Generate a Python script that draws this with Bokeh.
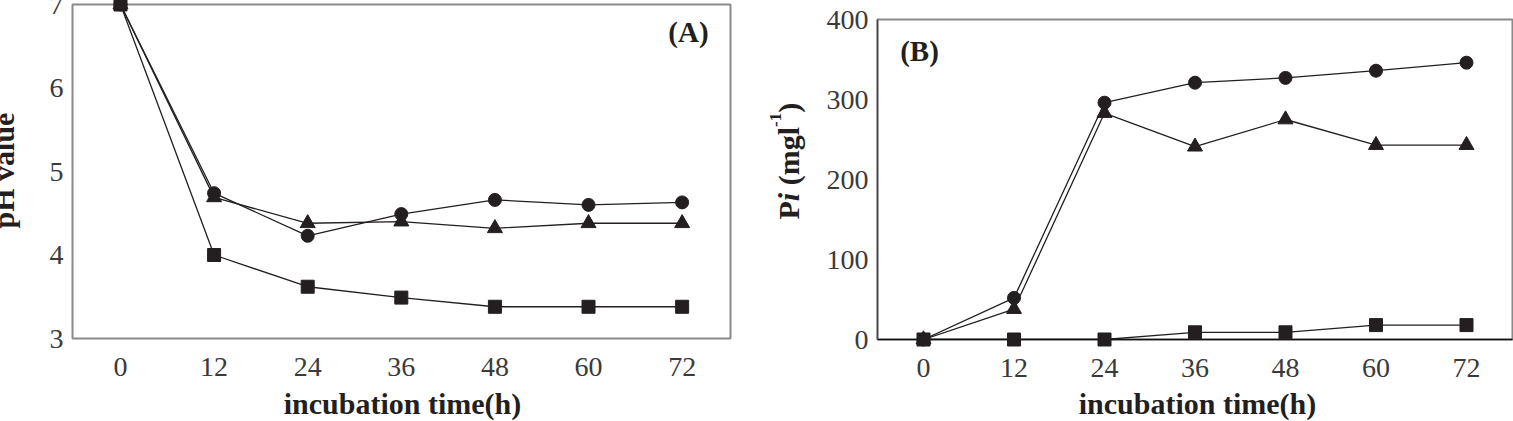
import math
from bokeh.plotting import figure
from bokeh.layouts import row
from bokeh.models import Label, FixedTicker, Range1d
from bokeh.core.properties import value
from bokeh.embed import file_html
from bokeh.resources import INLINE

# ---------------- data ----------------
hours = [0, 12, 24, 36, 48, 60, 72]
ph_circle = [7.0, 4.74, 4.23, 4.49, 4.66, 4.60, 4.63]
ph_triangle = [7.0, 4.69, 4.38, 4.40, 4.32, 4.38, 4.38]
ph_square = [7.0, 4.00, 3.62, 3.49, 3.38, 3.38, 3.38]
pi_circle = [0, 52, 296, 321, 327, 336, 346]
pi_triangle = [0, 38, 283, 241, 275, 243, 243]
pi_square = [0, 0, 0, 9, 9, 18, 18]
ph_ticks = [3, 4, 5, 6, 7]
pi_ticks = [0, 100, 200, 300, 400]
x_ticks = [0, 12, 24, 36, 48, 60, 72]
x_title = "incubation time(h)"
ya_title = "pH value"

INK = "#231f20"
SERIF = "Liberation Serif"


def make_fig(xr, yr, fw, fh, left, right, top, bottom, yticks):
    p = figure(frame_width=fw, frame_height=fh,
               min_border_left=left, min_border_right=right,
               min_border_top=top, min_border_bottom=bottom,
               x_range=Range1d(*xr), y_range=Range1d(*yr),
               output_backend="svg", toolbar_location=None,
               background_fill_color="white", border_fill_color="white")
    p.grid.visible = False
    p.outline_line_color = "#8a8a8a"
    p.outline_line_width = 2
    p.xaxis.ticker = FixedTicker(ticks=x_ticks)
    p.yaxis.ticker = FixedTicker(ticks=yticks)
    for ax in (p.xaxis, p.yaxis):
        ax.major_tick_out = 0
        ax.major_tick_in = 0
        ax.minor_tick_out = 0
        ax.minor_tick_in = 0
        ax.major_label_text_font = SERIF
        ax.major_label_text_font_size = "28px"
        ax.major_label_text_color = "#3a3a3a"
    p.xaxis.major_label_standoff = 19
    p.yaxis.major_label_standoff = 9
    return p


def add_series(p, ys, marker, size):
    p.line(hours, ys, line_color=INK, line_width=1.3)
    r = p.scatter(hours, ys, marker=marker, size=size, fill_color=INK, line_color=INK)
    r.level = "overlay"


def to_data(info, px, py):
    x0, x1, y0, y1, fl, ft, fw, fh = info
    return x0 + (px - fl) * (x1 - x0) / fw, y1 - (py - ft) * (y1 - y0) / fh


def add_text(p, info, px, py, text, size="30px", style="bold", angle=0.0,
             align="center"):
    xd, yd = to_data(info, px, py)
    r = p.text(x=[xd], y=[yd], text=[text], angle=angle,
               text_font=value(SERIF), text_font_size=value(size),
               text_font_style=style, text_color=INK,
               text_align=align, text_baseline="alphabetic")
    r.level = "overlay"


def add_tag(p, info, px, py, text):
    xd, yd = to_data(info, px, py)
    p.add_layout(Label(x=xd, y=yd, text=text, text_font=SERIF,
                       text_font_size="29px", text_font_style="bold",
                       text_color=INK, text_align="center",
                       text_baseline="alphabetic"))


# ---------------- panel A ----------------
xa = (-6.15, 78.2)
ya = (3, 7)
pa = make_fig(xa, ya, 658, 334, 72, 30, 19, 83, ph_ticks)
pa.margin = (-15, 0, 0, 0)
pa.xaxis.axis_line_color = None
pa.yaxis.axis_line_color = None
add_series(pa, ph_circle, "circle", 13)
add_series(pa, ph_triangle, "triangle", 15)
add_series(pa, ph_square, "square", 13)
# page-pixel frame: left 72, top 4
info_a = (xa[0], xa[1], ya[0], ya[1], 72, 4, 658, 334)
add_text(pa, info_a, 402, 403, x_title)
add_text(pa, info_a, 3, 170, ya_title, angle=math.pi / 2)
add_tag(pa, info_a, 688, 31, "(A)")

# ---------------- panel B ----------------
xb = (-6.1, 78.1)
yb = (0, 400)
pb = make_fig(xb, yb, 635, 320, 117, 1, 19, 82, pi_ticks)
pb.yaxis.axis_line_color = "#444444"
pb.yaxis.axis_line_width = 1.5
pb.xaxis.axis_line_color = "#111111"
pb.xaxis.axis_line_width = 1.5
add_series(pb, pi_circle, "circle", 13)
add_series(pb, pi_triangle, "triangle", 15)
add_series(pb, pi_square, "square", 13)
# page-pixel frame: left 877, top 19
info_b = (xb[0], xb[1], yb[0], yb[1], 877, 19, 635, 320)
add_text(pb, info_b, 1197, 403, x_title)
add_tag(pb, info_b, 919, 50, "(B)")
# rotated y title "Pi (mgl-1)" built from pieces (advance widths in em)
fs = 30
bx = 788
pos = 219
pieces = [("P", "bold", fs, 0.611, 0), ("i", "bold italic", fs, 0.278 + 0.25, 0),
          ("(mgl", "bold", fs, 1.944, 0), ("-1", "bold", 17, 0.833, 13),
          (")", "bold", fs, 0.333, 0)]
for txt, sty, size, w, raise_px in pieces:
    add_text(pb, info_b, bx - raise_px, pos, txt, size=f"{size}px", style=sty,
             angle=math.pi / 2, align="left")
    pos -= w * size

layout = row(pa, pb)
open("out.html", "w").write(file_html(layout, INLINE))
